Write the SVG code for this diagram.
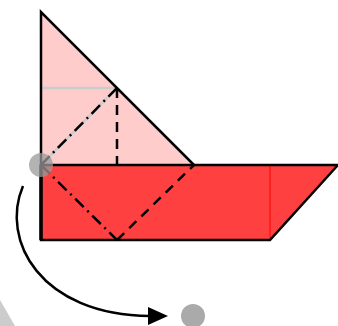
<svg xmlns="http://www.w3.org/2000/svg" width="338" height="326" viewBox="0 0 338 326">
<style>
.ol{fill:none;stroke:#000;stroke-width:2.5;stroke-linejoin:miter}
.dash{fill:none;stroke:#000;stroke-width:2.5;stroke-dasharray:10 7}
.dashdot{fill:none;stroke:#000;stroke-width:2.5;stroke-dasharray:12 5 2 5}
.dot{fill:#999;fill-opacity:0.75}
</style>
<defs>
<marker id="ah" markerWidth="8" markerHeight="8" refX="7" refY="4" orient="auto" markerUnits="userSpaceOnUse" viewBox="0 0 8 8">
<path d="M0,0 L8,4 L0,8 z" fill="#000"/>
</marker>
</defs>
<polygon points="0,300 0,326 15,326" fill="#ccc"/>
<g id="triangle">
<polygon points="41,12 41,165 194,165" fill="#ffcccc"/>
<line x1="41" y1="88" x2="117" y2="88" stroke="#ccc" stroke-width="2.5"/>
<line x1="41" y1="165" x2="117" y2="88" stroke="#ccc" stroke-width="2.5"/>
<line x1="41" y1="165" x2="117" y2="88" class="dashdot"/>
<line x1="117" y1="88" x2="117" y2="165" class="dash"/>
<polyline points="41,165 41,12 194,165" class="ol"/>
</g>
<g id="base">
<polygon points="41,165 338,165 270,240 41,240" fill="#ff4040"/>
<line x1="270" y1="165" x2="270" y2="240" stroke="#ff2020" stroke-width="2"/>
<polygon points="41,165 338,165 270,240 41,240" class="ol"/>
<line x1="41" y1="165" x2="41" y2="240" stroke="#000" stroke-width="3.5"/>
<line x1="41" y1="165" x2="117" y2="240" class="dashdot"/>
<line x1="117" y1="240" x2="194" y2="165" class="dash"/>
</g>
<g id="dots">
<circle cx="41" cy="165" r="12" class="dot"/>
<circle cx="193" cy="316" r="12" fill="#aaa"/>
</g>
<g id="connectors">
<path d="M23,186 C0,240 40,315 150,316" fill="none" stroke="#000" stroke-width="2.5"/>
<polygon points="148,307 168,316 148,325" fill="#000"/>
</g>
</svg>
